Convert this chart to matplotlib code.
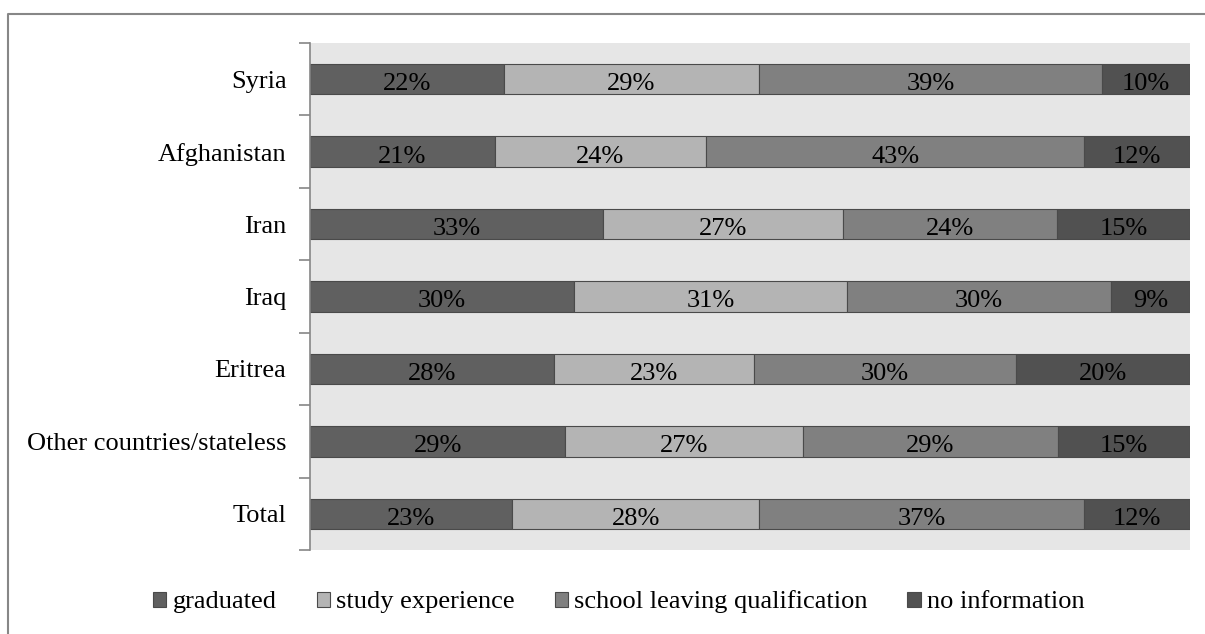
import numpy as np
import matplotlib.pyplot as plt
from matplotlib.lines import Line2D

plt.rcParams['font.family'] = ['Liberation Serif', 'DejaVu Serif']

countries = ['Syria', 'Afghanistan', 'Iran', 'Iraq', 'Eritrea',
             'Other countries/stateless', 'Total']
series = ['graduated', 'study experience', 'school leaving qualification', 'no information']
graduated = [22, 21, 33, 30, 28, 29, 23]
study_exp = [29, 24, 27, 31, 23, 27, 28]
school_leaving = [39, 43, 24, 30, 30, 29, 37]
no_info = [10, 12, 15, 9, 20, 15, 12]
colors = ['#606060', '#b4b4b4', '#808080', '#515151']

W, H = 1205, 634
fig = plt.figure(figsize=(W / 100, H / 100), dpi=100)
ax = fig.add_axes([310 / W, 1 - 550 / H, 880 / W, 507 / H])
ax.set_facecolor('#e6e6e6')

vals = np.array([graduated, study_exp, school_leaving, no_info], dtype=float)
shares = vals / vals.sum(axis=0) * 100   # 100% stacked
y = np.arange(len(countries))
left = np.zeros(len(countries))
for i, name in enumerate(series):
    ax.barh(y, shares[i], left=left, height=0.42, color=colors[i],
            edgecolor='#4a4a4a', linewidth=0.8, label=name)
    for j in range(len(countries)):
        # baseline a bit below the bar centre, like the original
        ax.text(left[j] + shares[i][j] / 2, y[j] + 0.15, '%d%%' % vals[i][j],
                ha='center', va='baseline', fontsize=19, color='black')
    left += shares[i]

ax.set_xlim(0, 100)
ax.set_ylim(len(countries) - 0.5, -0.5)
ax.set_xticks([])
ax.set_yticks(np.arange(-0.5, len(countries)), labels=[])
ax.set_yticks(y, labels=countries, minor=True)
ax.tick_params(axis='y', which='major', length=8, width=1.2, color='#868686')
ax.tick_params(axis='y', which='minor', length=0, pad=17, labelsize=19)
for s in ['top', 'right', 'bottom']:
    ax.spines[s].set_visible(False)
ax.spines['left'].set_color('#868686')
ax.spines['left'].set_linewidth(1.2)

fig.legend(loc='center', bbox_to_anchor=(619 / W, 1 - 602 / H), ncol=4,
           frameon=False, fontsize=19, handlelength=0.5, handleheight=0.5,
           handletextpad=0.25, columnspacing=1.5, borderpad=0)

# outer chart border (top and left visible)
fig.add_artist(Line2D([8 / W, 8 / W, 1], [0, 1 - 14 / H, 1 - 14 / H],
                      transform=fig.transFigure, color='#878787', linewidth=1.5))

fig.savefig('out.png', dpi=100)
